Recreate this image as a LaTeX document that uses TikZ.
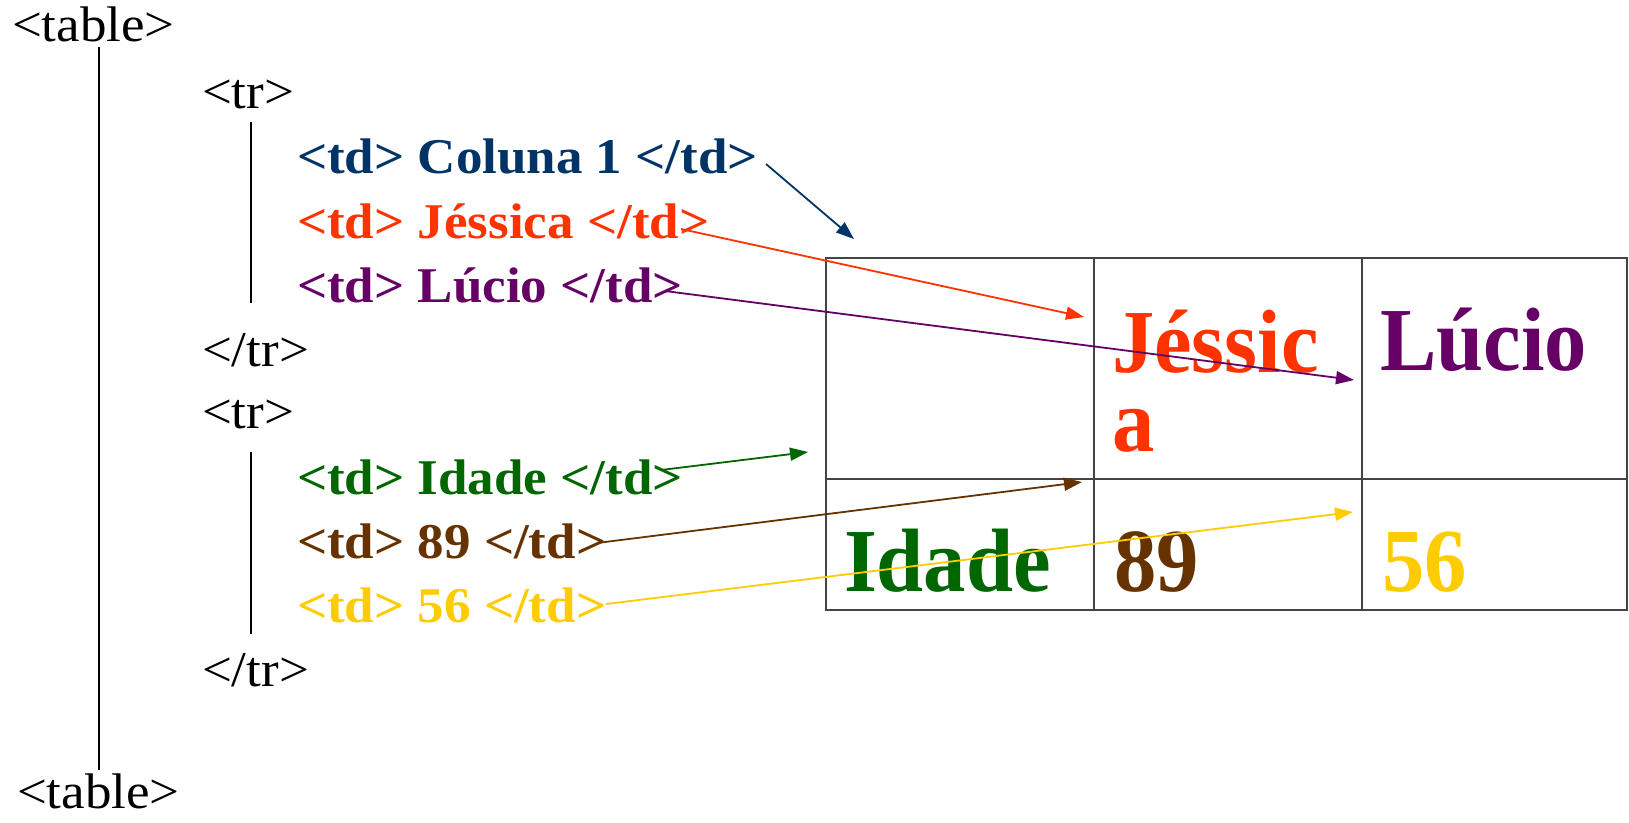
\documentclass[tikz,border=0pt]{standalone}
\usepackage{fontspec}
\setmainfont{Liberation Serif}
\newfontfamily\widefont[FakeStretch=1.06]{Liberation Serif}
\newfontfamily\cellfont[FakeStretch=0.94]{Liberation Serif}
\usetikzlibrary{arrows.meta}
\definecolor{cnavy}{HTML}{003366}
\definecolor{cred}{HTML}{FF3300}
\definecolor{cpurple}{HTML}{660066}
\definecolor{cgreen}{HTML}{006600}
\definecolor{cbrown}{HTML}{663300}
\definecolor{cyellow}{HTML}{FFCC00}
\definecolor{cgrid}{HTML}{444444}
\begin{document}
\begin{tikzpicture}[x=1bp,y=-1bp,
  tag/.style={anchor=base west, inner sep=0, outer sep=0, font=\widefont\fontsize{50bp}{54bp}\selectfont},
  tdtag/.style={anchor=base west, inner sep=0, outer sep=0, font=\widefont\bfseries\fontsize{50bp}{54bp}\selectfont},
  cell/.style={anchor=base west, inner sep=0, outer sep=0, font=\cellfont\bfseries\fontsize{90bp}{79bp}\selectfont},
  guide/.style={line width=1.6bp, black},
  link/.style={line width=1.8bp, -{Triangle[length=18bp,width=13bp]}},
  gridline/.style={draw=cgrid, line width=1.5bp}]
\fill[white] (0,0) rectangle (1629,822);
\useasboundingbox (0,0) rectangle (1629,822);

% left tree
\node[tag] (tab1) at (12,42) {<table>};
\node[tag] (tab2) at (17,808) {<table>};
\coordinate (g1a) at (99,47);
\coordinate (g1b) at (99,770);
\draw[guide] (g1a) -- (g1b);

\node[tag] (tr1) at (202,108) {<tr>};
\coordinate (g2a) at (251,122);
\coordinate (g2b) at (251,303);
\draw[guide] (g2a) -- (g2b);
\node[tdtag, text=cnavy] (td1) at (297,173) {<td> Coluna 1 </td>};
\node[tdtag, text=cred] (td2) at (297,238) {<td> Jéssica </td>};
\node[tdtag, text=cpurple] (td3) at (297,302) {<td> Lúcio </td>};
\node[tag] (etr1) at (202,366) {</tr>};

\node[tag] (tr2) at (202,428) {<tr>};
\coordinate (g3a) at (251,452);
\coordinate (g3b) at (251,634);
\draw[guide] (g3a) -- (g3b);
\node[tdtag, text=cgreen] (td4) at (297,494) {<td> Idade </td>};
\node[tdtag, text=cbrown] (td5) at (297,558) {<td> 89 </td>};
\node[tdtag, text=cyellow] (td6) at (297,622) {<td> 56 </td>};
\node[tag] (etr2) at (202,686) {</tr>};

% table grid
\draw[gridline] (826,258) rectangle (1627,610);
\draw[gridline] (826,479) -- (1627,479);
\draw[gridline] (1094,258) -- (1094,610);
\draw[gridline] (1362,258) -- (1362,610);

% cell texts
\node[cell, text=cred, align=left] (cj) at (1112,451) {Jéssic\\a};
\node[cell, text=cpurple] (cl) at (1380,370) {Lúcio};
\node[cell, text=cgreen] (ci) at (844,591) {Idade};
\node[cell, text=cbrown] (c89) at (1114,591) {89};
\node[cell, text=cyellow] (c56) at (1382,591) {56};

% arrows
\coordinate (a1s) at (766,164); \coordinate (a1e) at (854,239);
\coordinate (a2s) at (681,229); \coordinate (a2e) at (1084,317);
\coordinate (a3s) at (665,291); \coordinate (a3e) at (1354,380);
\coordinate (a4s) at (661,470); \coordinate (a4e) at (808,452);
\coordinate (a5s) at (597,543); \coordinate (a5e) at (1082,482);
\coordinate (a6s) at (606,604); \coordinate (a6e) at (1353,512);
\draw[link, cnavy] (a1s) -- (a1e);
\draw[link, cred] (a2s) -- (a2e);
\draw[link, cpurple] (a3s) -- (a3e);
\draw[link, cgreen] (a4s) -- (a4e);
\draw[link, cbrown] (a5s) -- (a5e);
\draw[link, cyellow] (a6s) -- (a6e);
\end{tikzpicture}
\end{document}
